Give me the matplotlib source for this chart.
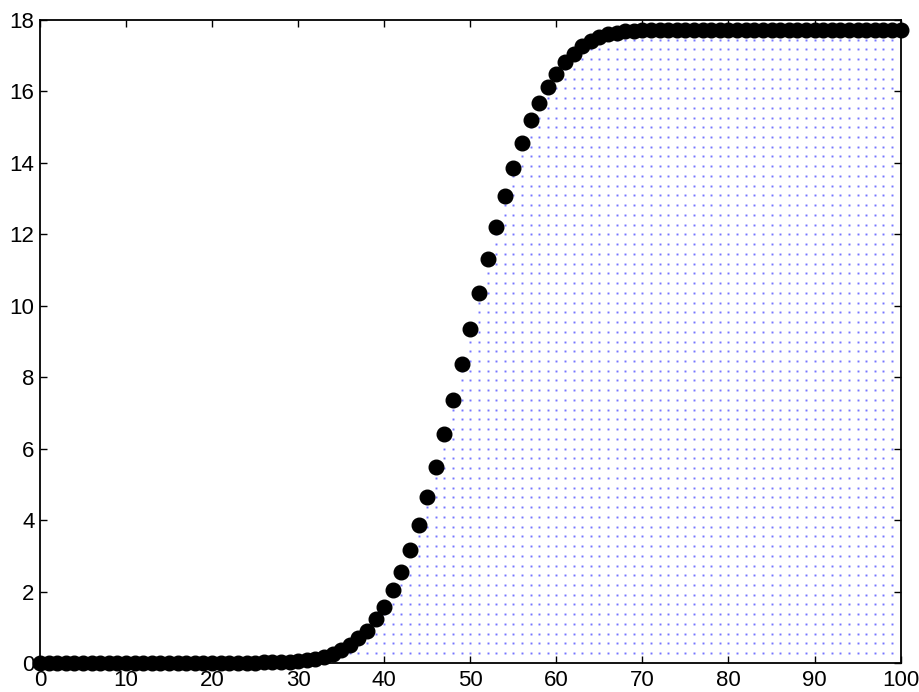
import numpy as np
import matplotlib
matplotlib.use("Agg")
import matplotlib.pyplot as plt

plt.rcParams["font.family"] = ["Liberation Sans", "DejaVu Sans"]

# sampled curve, one value per integer x
x = np.arange(0, 101)
y = np.array([
    0.0, 0.0, 0.0, 0.0, 0.0, 0.0, 0.0, 0.0, 0.0, 0.0,
    0.0, 0.0, 0.0, 0.0, 0.0, 0.0, 0.0, 0.0, 0.0, 0.0,
    0.0, 0.0, 0.005, 0.007, 0.01, 0.012, 0.016, 0.02, 0.03, 0.04,
    0.05, 0.08, 0.12, 0.18, 0.25, 0.36, 0.5, 0.69, 0.9, 1.22,
    1.56, 2.03, 2.56, 3.16, 3.85, 4.64, 5.5, 6.41, 7.37, 8.36,
    9.35, 10.36, 11.31, 12.22, 13.06, 13.85, 14.56, 15.2, 15.69, 16.12,
    16.5, 16.82, 17.06, 17.26, 17.4, 17.52, 17.6, 17.65, 17.68, 17.7,
    17.71, 17.72, 17.72, 17.72, 17.72, 17.72, 17.72, 17.72, 17.72, 17.72,
    17.72, 17.72, 17.72, 17.72, 17.72, 17.72, 17.72, 17.72, 17.72, 17.72,
    17.72, 17.72, 17.72, 17.72, 17.72, 17.72, 17.72, 17.72, 17.72, 17.72,
    17.72,
])

# lattice of sample points lying under the curve
grid_x = np.arange(1, 100)
grid_y = np.arange(1, 65) * 0.2727

fig = plt.figure(figsize=(9.19, 6.92), dpi=100)
ax = fig.add_axes([0.0435, 0.042, 0.9365, 0.929])

GX, GY = np.meshgrid(grid_x, grid_y)
under = GY <= np.interp(GX, x, y)
ax.plot(GX[under], GY[under], linestyle="none", marker="s",
        markersize=1.4, markeredgewidth=0, color="#4848ff", alpha=0.75)

ax.plot(x, y, linestyle="none", marker="o", markersize=10.5,
        color="black", clip_on=False, zorder=5)

ax.set_xlim(0, 100)
ax.set_ylim(0, 18)
ax.set_xticks(np.arange(0, 101, 10))
ax.set_yticks(np.arange(0, 19, 2))
ax.tick_params(direction="in", length=5, width=1, top=True, right=True,
               labelsize=16, colors="black")
ax.tick_params(axis="y", pad=4)
ax.tick_params(axis="x", pad=5)
for side in ax.spines.values():
    side.set_linewidth(1.3)
    side.set_color("black")

fig.savefig("out.png", dpi=100)
